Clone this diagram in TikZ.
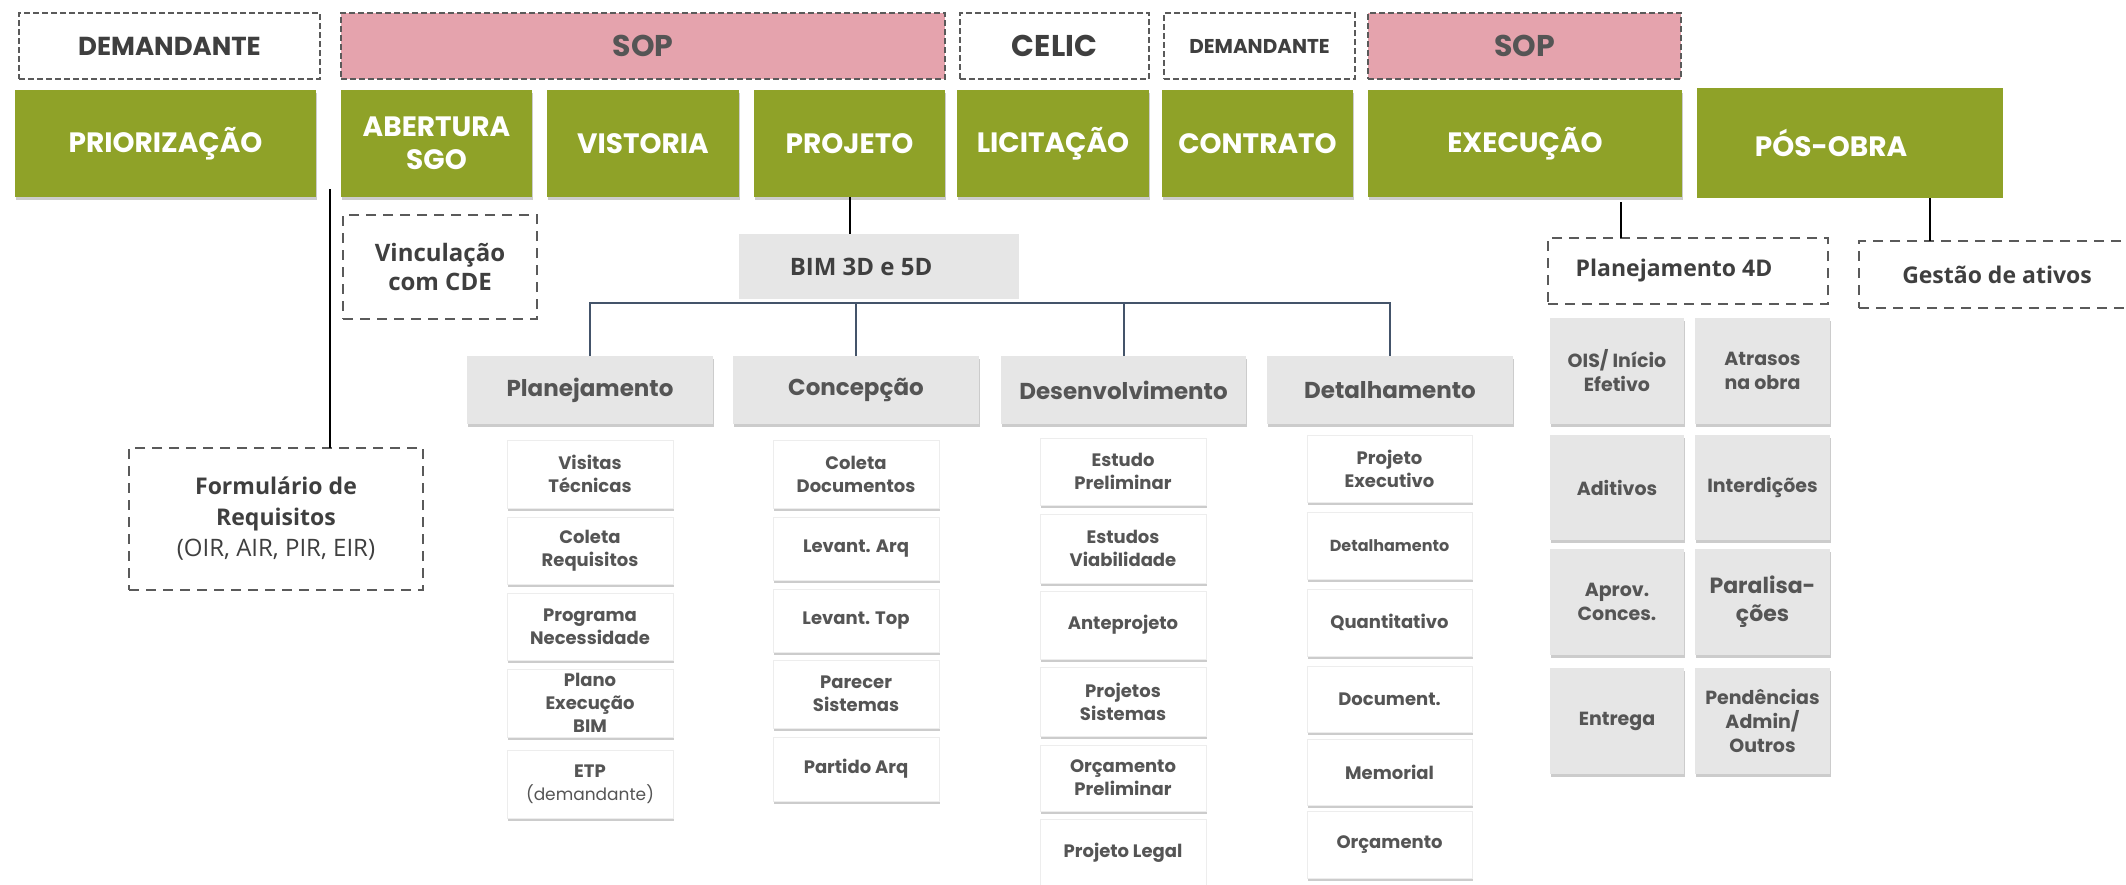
\documentclass[tikz,border=0pt]{standalone}
\usepackage{fontspec}
\setmainfont{Poppins}
\newfontfamily\notefont{Open Sans}
\usetikzlibrary{shadows}
\definecolor{stagegreen}{HTML}{8FA228}
\definecolor{soppink}{HTML}{E5A3AD}
\definecolor{cardgrey}{HTML}{E6E6E6}
\definecolor{inktext}{HTML}{555555}
\definecolor{darkink}{HTML}{3F3F3F}
\definecolor{linkblue}{HTML}{44546A}
\definecolor{dashgrey}{HTML}{5A5A5A}
% box from corner (x1,y1) to (x2,y2), in pixels of the sketch
\newcommand{\cellbox}[7]{
\node[#1, minimum width={(#5-#3)*0.5pt}, minimum height={(#6-#4)*0.5pt}]
  (#2) at ({(#3+#5)/2}, {(#4+#6)/2}) {#7};
}
\tikzset{
  every node/.style={inner sep=0pt, outer sep=0pt, align=center},
  soft shadow/.style={drop shadow={shadow xshift=0.3pt, shadow yshift=-1.3pt, fill=black!50, opacity=0.4}},
  owner/.style={draw=dashgrey, line width=0.7pt, dash pattern=on 3pt off 1.5pt,
    text=darkink, font=\bfseries\fontsize{13}{15}\selectfont},
  owner sop/.style={owner, fill=soppink, text=inktext, font=\bfseries\fontsize{15}{17}\selectfont},
  stageflat/.style={fill=stagegreen, text=white, font=\bfseries\fontsize{14}{16.5}\selectfont},
  stage/.style={stageflat, soft shadow},
  note/.style={draw=dashgrey, line width=0.9pt, dash pattern=on 5pt off 3.5pt,
    text=darkink, font=\notefont\bfseries\fontsize{12}{14.5}\selectfont},
  phase/.style={fill=cardgrey, text=inktext, font=\bfseries\fontsize{11.5}{13}\selectfont, soft shadow},
  task/.style={fill=white, draw=black!7, text=inktext, font=\bfseries\fontsize{9}{11.5}\selectfont, soft shadow},
  risk/.style={fill=cardgrey, text=inktext, font=\bfseries\fontsize{9.5}{12}\selectfont, soft shadow},
  link/.style={draw=linkblue, line width=1pt},
  stem/.style={draw=black, line width=1pt}
}
\begin{document}
\begin{tikzpicture}[x=0.5pt, y=-0.5pt]
\useasboundingbox (0,0) rectangle (2126,884);
\fill[white] (0,0) rectangle (2126,884);
% who is responsible
\cellbox{owner}{dema}{19}{13}{320}{79}{DEMANDANTE}
\cellbox{owner sop}{sopa}{341}{13}{945}{79}{SOP}
\cellbox{owner, font=\bfseries\fontsize{15}{17}\selectfont}{celic}{960}{13}{1149}{79}{CELIC}
\cellbox{owner, font=\bfseries\fontsize{10}{12}\selectfont}{demb}{1164}{13}{1355}{79}{DEMANDANTE}
\cellbox{owner sop}{sopb}{1368}{13}{1681}{79}{SOP}
% stages
\cellbox{stage}{prior}{15}{90}{316}{197}{PRIORIZAÇÃO}
\cellbox{stage}{abert}{341}{90}{532}{197}{ABERTURA\\SGO}
\cellbox{stage}{vist}{547}{90}{739}{197}{VISTORIA}
\cellbox{stage}{proj}{754}{90}{945}{197}{PROJETO}
\cellbox{stage}{licit}{957}{90}{1149}{197}{LICITAÇÃO}
\cellbox{stage}{contr}{1162}{90}{1353}{197}{CONTRATO}
\cellbox{stage}{exec}{1368}{90}{1682}{197}{EXECUÇÃO}
\cellbox{stageflat}{pos}{1697}{88}{2003}{198}{\hspace*{-19pt}\raisebox{-3.5pt}{PÓS-OBRA}}
% notes
\cellbox{note}{vinc}{343}{215}{537}{319}{Vinculação\\com CDE}
\cellbox{note, font=\notefont\bfseries\fontsize{11.5}{15.5}\selectfont}{form}{129}{448}{423}{590}
  {Formulário de\\Requisitos\\{\mdseries\fontsize{12}{15.5}\selectfont (OIR, AIR, PIR, EIR)}}
\cellbox{fill=cardgrey, text=darkink, font=\notefont\bfseries\fontsize{12}{14}\selectfont}{bim}{739}{234}{1019}{299}{\hspace*{-18pt}BIM 3D e 5D}
\cellbox{note, font=\notefont\bfseries\fontsize{11.5}{14}\selectfont}{plan4d}{1548}{238}{1828}{304}{\hspace*{-14pt}Planejamento 4D}
\cellbox{note, font=\notefont\bfseries\fontsize{11.5}{14}\selectfont}{gestao}{1859}{241}{2135}{308}{Gestão de ativos}
% project phases
\cellbox{phase}{plan}{467}{356}{713}{424}{Planejamento}
\cellbox{phase}{conc}{733}{356}{979}{424}{Concepção}
\cellbox{phase}{desen}{1001}{356}{1246}{424}{Desenvolvimento}
\cellbox{phase}{detal}{1267}{356}{1513}{424}{Detalhamento}
\draw[link] (plan.north) -- ++(0,-53) -| (detal.north);
\draw[link] (conc.north) -- ++(0,-53);
\draw[link] (desen.north) -- ++(0,-53);
% tasks of each phase
\foreach \ya/\yb/\txt [count=\i] in {440/508/{Visitas\\Técnicas}, 517/584/{Coleta\\Requisitos},
    593/660/{Programa\\Necessidade}, 669/737/{Plano\\Execução\\BIM},
    750/818/{ETP\\{\mdseries\fontsize{8.5}{11}\selectfont(demandante)}}}
  {\cellbox{task}{plan\i}{507}{\ya}{673}{\yb}{\txt}}
\foreach \ya/\yb/\txt [count=\i] in {440/508/{Coleta\\Documentos}, 517/580/{Levant. Arq},
    589/652/{Levant. Top}, 660/728/{Parecer\\Sistemas}, 737/801/{Partido Arq}}
  {\cellbox{task}{conc\i}{773}{\ya}{939}{\yb}{\txt}}
\foreach \ya/\yb/\txt [count=\i] in {438/505/{Estudo\\Preliminar}, 514/583/{Estudos\\Viabilidade},
    591/659/{Anteprojeto}, 667/736/{Projetos\\Sistemas}, 745/811/{Orçamento\\Preliminar},
    819/886/{Projeto Legal}}
  {\cellbox{task}{desen\i}{1040}{\ya}{1206}{\yb}{\txt}}
\foreach \ya/\yb/\txt [count=\i] in {435/502/{Projeto\\Executivo},
    512/579/{\fontsize{8}{10}\selectfont Detalhamento}, 589/656/{Quantitativo},
    666/732/{Document.}, 739/805/{Memorial}, 811/878/{Orçamento}}
  {\cellbox{task}{detal\i}{1307}{\ya}{1472}{\yb}{\txt}}
% execution grid
\cellbox{risk}{ois}{1550}{318}{1684}{424}{OIS/ Início\\Efetivo}
\cellbox{risk}{atraso}{1695}{318}{1830}{424}{Atrasos\\na obra}
\cellbox{risk}{adit}{1550}{435}{1684}{540}{Aditivos}
\cellbox{risk}{interd}{1695}{435}{1830}{540}{Interdições}
\cellbox{risk}{aprov}{1550}{549}{1684}{655}{Aprov.\\Conces.}
\cellbox{risk, font=\bfseries\fontsize{11}{14}\selectfont}{paral}{1695}{549}{1830}{655}{Paralisa-\\ções}
\cellbox{risk}{entrega}{1550}{668}{1684}{774}{Entrega}
\cellbox{risk}{pend}{1695}{668}{1830}{774}{Pendências\\Admin/\\Outros}
% connectors
\coordinate (sgostub) at (330,189);
\draw[stem] (sgostub) -- (sgostub |- form.north);
\draw[stem] (proj.south) -- (proj.south |- bim.north);
\coordinate (execstub) at (1621,202);
\draw[stem] (execstub) -- (execstub |- plan4d.north);
\coordinate (posstub) at (1930,198);
\draw[stem] (posstub) -- (posstub |- gestao.north);
\end{tikzpicture}
\end{document}
